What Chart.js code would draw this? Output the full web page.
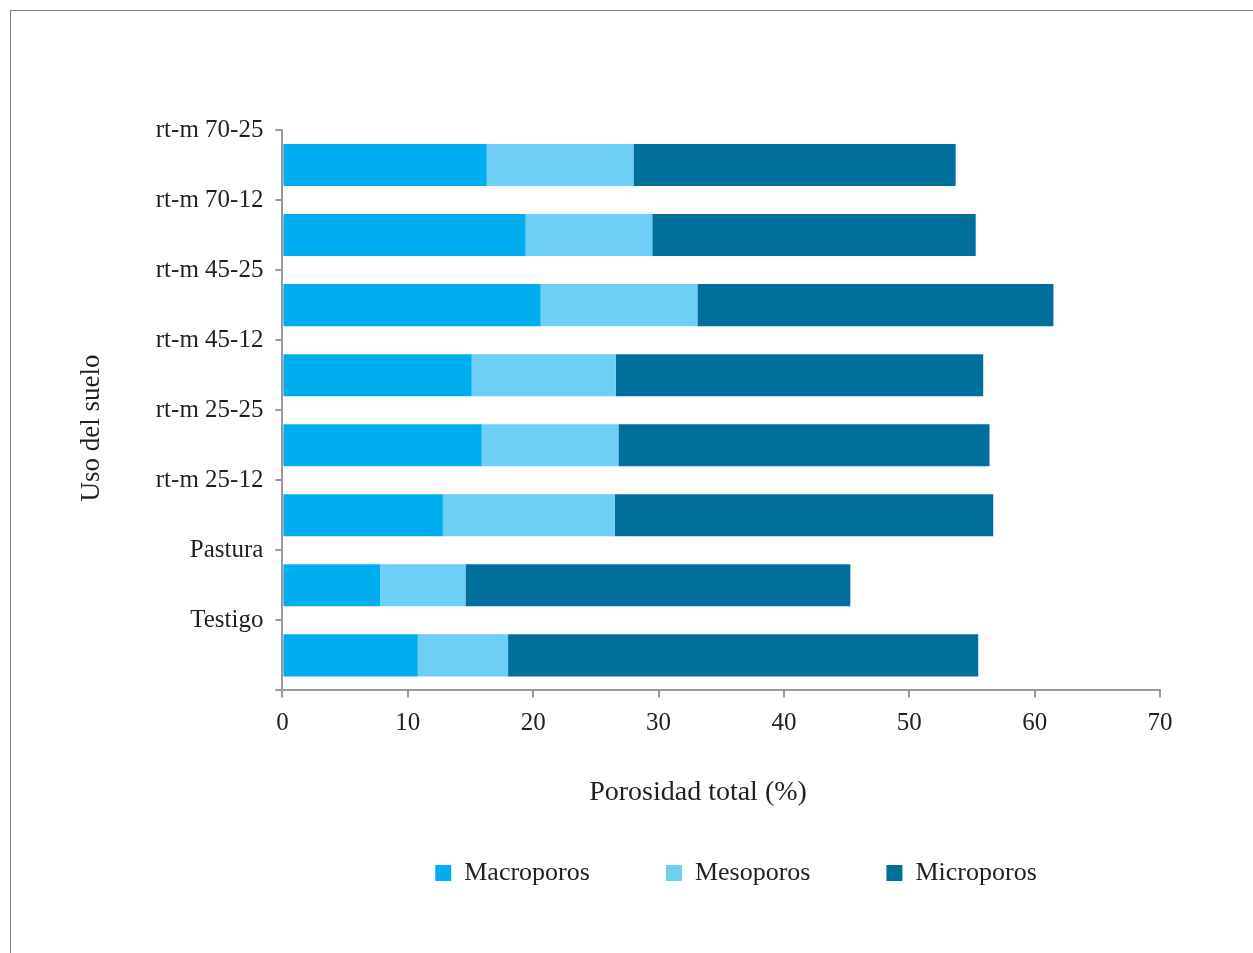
<!DOCTYPE html>
<html>
<head>
<meta charset="utf-8">
<script src="https://cdn.jsdelivr.net/npm/chart.js@4/dist/chart.umd.min.js"></script>
<style>
  html, body { margin: 0; padding: 0; background: #fff; }
  #wrap { position: relative; width: 1253px; height: 953px; }
  #frame { position: absolute; left: 10px; top: 10px; right: -5px; bottom: -5px;
           border-left: 1.5px solid #7f7f7f; border-top: 1.5px solid #7f7f7f; }
  canvas { position: absolute; left: 0; top: 0; }
</style>
</head>
<body>
<div id="wrap">
  <div id="frame"></div>
  <canvas id="c" width="1253" height="953"></canvas>
</div>
<script>
// categorias (de arriba a abajo)
var usos = ['rt-m 70-25', 'rt-m 70-12', 'rt-m 45-25', 'rt-m 45-12', 'rt-m 25-25', 'rt-m 25-12', 'Pastura', 'Testigo'];
// porosidad (%) por tipo de poro
var macroporos = [16.3, 19.4, 20.6, 15.1, 15.9, 12.8, 7.8, 10.8];
var mesoporos  = [11.7, 10.1, 12.5, 11.5, 10.9, 13.7, 6.8, 7.2];
var microporos = [25.7, 25.8, 28.4, 29.3, 29.6, 30.2, 30.7, 37.5];
var xTicks = [0, 10, 20, 30, 40, 50, 60, 70];

var FONT = "'Liberation Serif', 'DejaVu Serif', serif";
var TXT = '#231f20';
var AXIS = '#9a9a9a';
var Y_TITLE = 'Uso del suelo';

Chart.defaults.font.family = FONT;
Chart.defaults.color = TXT;

// centra un bloque de layout en (cx, cy)
function moveBox(b, cx, cy) {
  var w = b.right - b.left, h = b.bottom - b.top;
  if (cx != null) { b.left = cx - w / 2; b.right = b.left + w; }
  if (cy != null) { b.top = cy - h / 2; b.bottom = b.top + h; }
}

// recoloca títulos y leyenda donde están en la figura original
var placeBoxes = {
  id: 'placeBoxes',
  afterLayout: function(chart) {
    if (chart.titleBlock) moveBox(chart.titleBlock, 698, 793);
    chart.boxes.forEach(function(b) {
      if (b !== chart.titleBlock && b.options && b.options.text === Y_TITLE) moveBox(b, 92, 428);
    });
    var lg = chart.legend;
    if (lg) {
      var pad = lg.options.labels.padding;
      moveBox(lg, 736, null);
      var h = lg.bottom - lg.top;
      lg.top = 873 - 13 - pad; lg.bottom = lg.top + h;
    }
  }
};

new Chart(document.getElementById('c'), {
  type: 'bar',
  data: {
    labels: usos,
    datasets: [
      { label: 'Macroporos', data: macroporos, backgroundColor: '#00aeef' },
      { label: 'Mesoporos',  data: mesoporos,  backgroundColor: '#6dcff6' },
      { label: 'Microporos', data: microporos, backgroundColor: '#006f9c' }
    ]
  },
  plugins: [placeBoxes],
  options: {
    indexAxis: 'y',
    responsive: false,
    animation: false,
    devicePixelRatio: 1,
    categoryPercentage: 1,
    barPercentage: 0.6,
    layout: { padding: { left: 80, top: 130, right: 93, bottom: 65 } },
    plugins: {
      tooltip: { enabled: false },
      title: {
        display: true, position: 'bottom', text: 'Porosidad total (%)',
        color: TXT, font: { size: 28, weight: 'normal' }, padding: 0
      },
      subtitle: {
        display: true, position: 'left', text: Y_TITLE,
        color: TXT, font: { size: 27, weight: 'normal' }, padding: 0
      },
      legend: {
        position: 'bottom',
        labels: { boxWidth: 16, boxHeight: 16, padding: 76, color: TXT, font: { size: 26 } }
      }
    },
    scales: {
      x: {
        stacked: true, min: 0, max: 70,
        afterBuildTicks: function(s) { s.ticks = xTicks.map(function(v){ return { value: v }; }); },
        border: { color: AXIS, width: 2 },
        grid: { drawOnChartArea: false, color: AXIS, lineWidth: 2, tickLength: 7 },
        ticks: { padding: 11, color: TXT, font: { size: 25 } },
        afterFit: function(s) { s.height = 52; }
      },
      y: {
        stacked: true,
        border: { color: AXIS, width: 2 },
        grid: { drawOnChartArea: false, offset: true, color: AXIS, lineWidth: 2, tickLength: 7 },
        ticks: { padding: 12, labelOffset: -35, color: TXT, font: { size: 25 } },
        afterFit: function(s) { s.width = 170; }
      }
    }
  }
});
</script>
</body>
</html>
